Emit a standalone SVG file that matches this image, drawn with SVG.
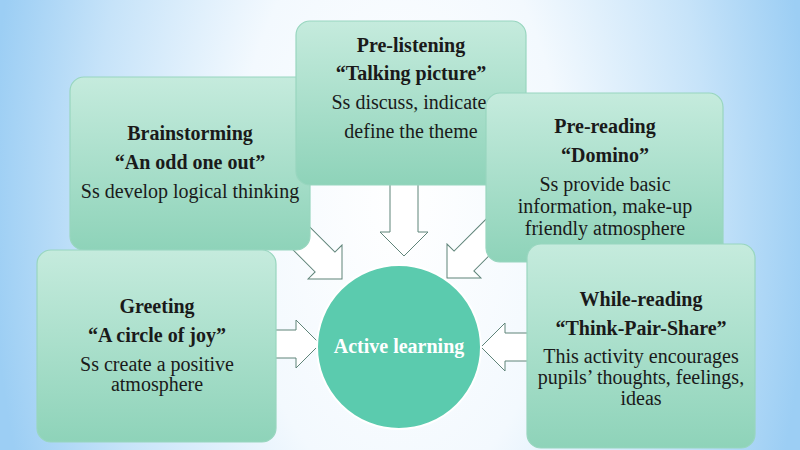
<svg xmlns="http://www.w3.org/2000/svg" width="800" height="450" viewBox="0 0 800 450">
<defs>
<radialGradient id="bg" gradientUnits="userSpaceOnUse" cx="400" cy="200" r="410" gradientTransform="translate(400 200) scale(1 1.8) translate(-400 -200)">
<stop offset="0" stop-color="#ffffff"/>
<stop offset="0.4" stop-color="#f3f9fe"/>
<stop offset="0.75" stop-color="#c6e3f9"/>
<stop offset="1" stop-color="#9ccef4"/>
</radialGradient>
<linearGradient id="boxfill" x1="0" y1="0" x2="0" y2="1">
<stop offset="0" stop-color="#c5ebdd"/>
<stop offset="1" stop-color="#8ed3b9"/>
</linearGradient>
<path id="arrow" d="M-80,-14 L-24,-14 L-24,-24 L0,0 L-24,24 L-24,14 L-80,14 Z"/>
</defs>
<style>
.box{fill:url(#boxfill);stroke:#98d6bf;stroke-width:1.2}
.arr{fill:#ffffff;stroke:#5f8479;stroke-width:1}
text{font-family:"Liberation Serif","Times New Roman",serif;font-size:20px;fill:#1a1a1a;text-anchor:middle}
.b{font-weight:bold}
.center{fill:#5bcbae;stroke:#ffffff;stroke-width:2}
.ct{fill:#ffffff;font-weight:bold}
</style>
<rect x="0" y="0" width="800" height="450" fill="url(#bg)"/>
<g id="connectors">
<use href="#arrow" class="arr" transform="translate(404 256) rotate(90)"/>
<use href="#arrow" class="arr" transform="translate(342 279) rotate(45)"/>
<use href="#arrow" class="arr" transform="translate(447 278) rotate(135)"/>
<use href="#arrow" class="arr" transform="translate(320 344)"/>
<use href="#arrow" class="arr" transform="translate(481 347) rotate(180)"/>
</g>
<g id="brainstorming">
<rect class="box" x="70" y="77" width="240" height="173" rx="14"/>
<text class="b" x="190" y="140">Brainstorming</text>
<text class="b" x="190" y="169">“An odd one out”</text>
<text x="190" y="198">Ss develop logical thinking</text>
</g>
<g id="pre-listening">
<rect class="box" x="296" y="21" width="230" height="164" rx="14"/>
<text class="b" x="411" y="52">Pre-listening</text>
<text class="b" x="411" y="80">“Talking picture”</text>
<text x="409" y="109">Ss discuss, indicate</text>
<text x="411" y="138">define the theme</text>
</g>
<g id="pre-reading">
<rect class="box" x="486" y="93" width="237" height="169" rx="14"/>
<text class="b" x="605" y="133">Pre-reading</text>
<text class="b" x="605" y="162">“Domino”</text>
<text x="605" y="191">Ss provide basic</text>
<text x="605" y="213">information, make-up</text>
<text x="605" y="235">friendly atmosphere</text>
</g>
<g id="greeting">
<rect class="box" x="37" y="250" width="239" height="192" rx="14"/>
<text class="b" x="157" y="313">Greeting</text>
<text class="b" x="157" y="342">“A circle of joy”</text>
<text x="157" y="371">Ss create a positive</text>
<text x="157" y="391">atmosphere</text>
</g>
<g id="while-reading">
<rect class="box" x="527" y="244" width="228" height="204" rx="14"/>
<text class="b" x="641" y="306">While-reading</text>
<text class="b" x="641" y="335">“Think-Pair-Share”</text>
<text x="641" y="363">This activity encourages</text>
<text x="641" y="384">pupils’ thoughts, feelings,</text>
<text x="641" y="405">ideas</text>
</g>
<g id="active-learning">
<circle class="center" cx="399" cy="347" r="82"/>
<text class="ct" x="399" y="353">Active learning</text>
</g>
</svg>
